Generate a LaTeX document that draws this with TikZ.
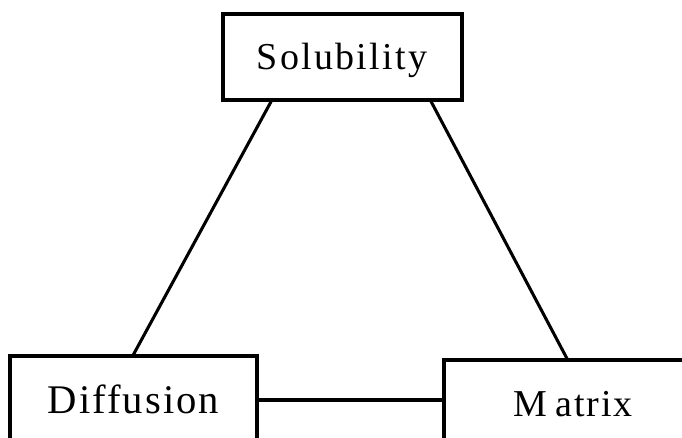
\documentclass[tikz,border=0pt]{standalone}
\usepackage{fontspec}
\setmainfont{Liberation Serif}
\newfontfamily\solfont[LetterSpace=6]{Liberation Serif}
\newfontfamily\difffont[LetterSpace=5]{Liberation Serif}
\newfontfamily\matfont[LetterSpace=5]{Liberation Serif}
\usetikzlibrary{calc}
\begin{document}
\begin{tikzpicture}[x=0.75pt,y=-0.75pt,
  boxnode/.style={draw=black,line width=2.3pt,inner sep=0pt,rectangle},
  labeltext/.style={inner sep=0pt,anchor=base,text=black},
  link/.style={draw=black,line width=2.3pt}]
\useasboundingbox (0,0) rectangle (682,438);
\fill[white] (0,0) rectangle (682,438);
\clip (0,0) rectangle (682,438);
\node[boxnode,minimum width=239*0.75pt,minimum height=86*0.75pt] (sol) at (342.5,57) {};
\node[boxnode,minimum width=247*0.75pt,minimum height=88*0.75pt] (diff) at (133.5,400) {};
\node[boxnode,minimum width=276*0.75pt,minimum height=80*0.75pt] (mat) at (582,400) {};
\node[labeltext] (soltext) at (342,70) {\solfont\fontsize{28.5}{30}\selectfont Solubility};
\node[labeltext] (difftext) at (133.5,413) {\difffont\fontsize{30.5}{32}\selectfont Diffusion};
\node[labeltext] (mattext) at (573,416) {\matfont\fontsize{28.5}{30}\selectfont M\kern6pt atrix};
\coordinate (solL) at ($(sol.south west)!0.205!(sol.south east)$);
\coordinate (solR) at ($(sol.south west)!0.866!(sol.south east)$);
\coordinate (matT) at ($(mat.north west)!0.446!(mat.north east)$);
\draw[link] (solL) -- (diff.north);
\draw[link] (solR) -- (matT);
\draw[link] (diff.east) -- (mat.west);
\end{tikzpicture}
\end{document}
